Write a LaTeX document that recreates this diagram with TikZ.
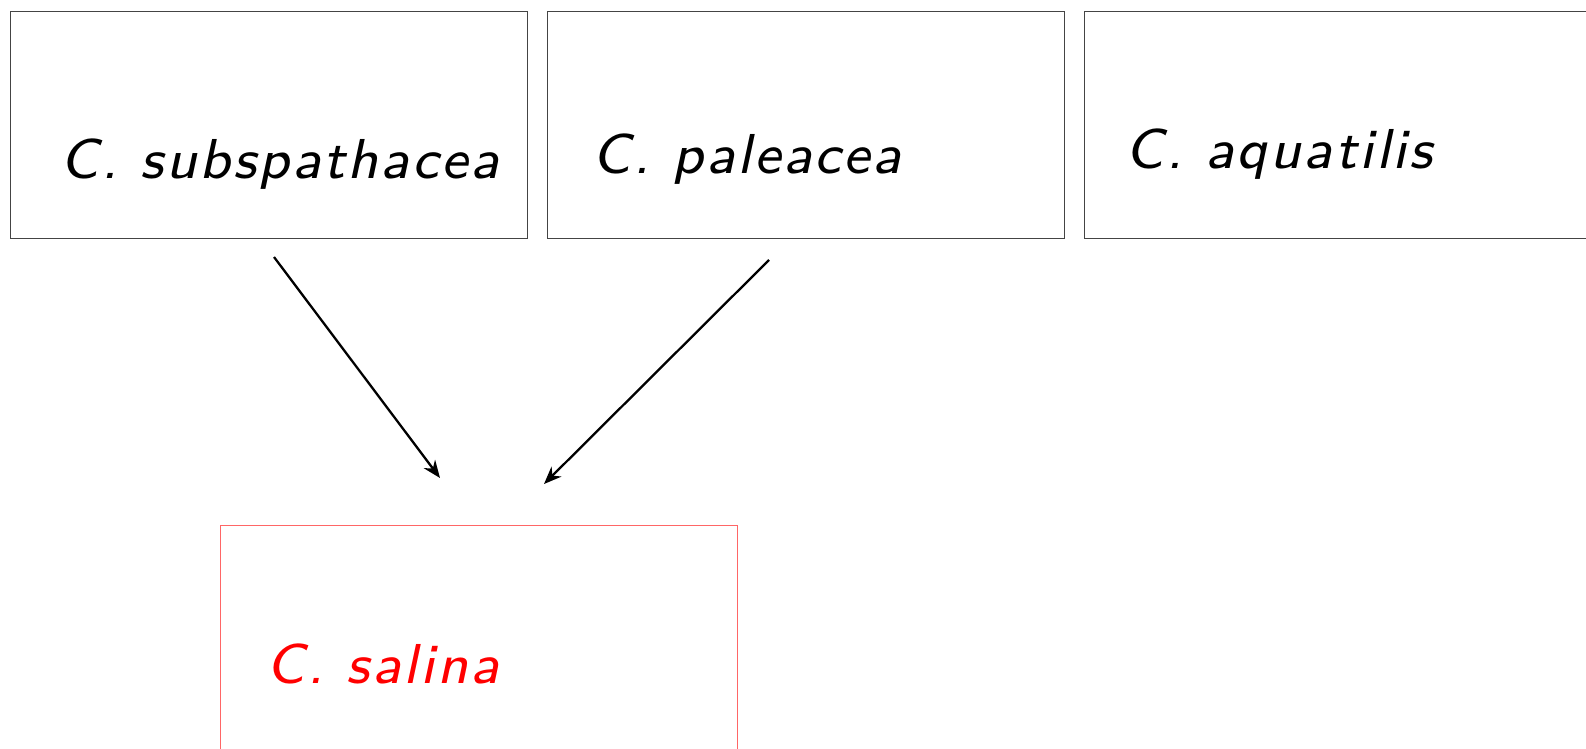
\documentclass[tikz,border=0pt]{standalone}
\usepackage{fontspec}
\newfontfamily\labfont{lmsans8-regular.otf}[ItalicFont=lmsans8-oblique.otf, LetterSpace=4.6]
\usetikzlibrary{arrows.meta}
\definecolor{boxgray}{HTML}{444444}
\definecolor{salinaedge}{HTML}{FF6666}
\tikzset{
  spbox/.style={draw=boxgray, line width=0.35pt, minimum width=517*0.01cm, minimum height=227*0.01cm, inner sep=0pt, anchor=north west},
  redbox/.style={spbox, draw=salinaedge, line width=0.45pt},
  splabel/.style={anchor=base west, inner sep=0pt, font=\labfont\itshape\fontsize{16}{19}\selectfont},
  conn/.style={line width=0.65pt, -{Stealth[length=5pt, width=4pt]}}
}
\begin{document}
\begin{tikzpicture}[x=0.01cm, y=-0.01cm]
\useasboundingbox (0,0) rectangle (1586,748);
\clip (0,0) rectangle (1586,748);
\node[spbox] (b1) at (10,10.5) {};
\node[spbox] (b2) at (547,10.5) {};
\node[spbox] (b3) at (1084,10.5) {};
\node[redbox] (b4) at (219.5,524.5) {};
\node[splabel] (t1) at (60,178.5) {C. subspathacea};
\node[splabel] (t2) at (592,173.5) {C. paleacea};
\node[splabel] (t3) at (1125,168.5) {C. aquatilis};
\node[splabel, text=red] (t4) at (266,683) {C. salina};
\coordinate (a1s) at (274,257);
\coordinate (a1e) at (440,478);
\coordinate (a2s) at (769,260);
\coordinate (a2e) at (544,484);
\draw[conn] (a1s) -- (a1e);
\draw[conn] (a2s) -- (a2e);
\end{tikzpicture}
\end{document}
